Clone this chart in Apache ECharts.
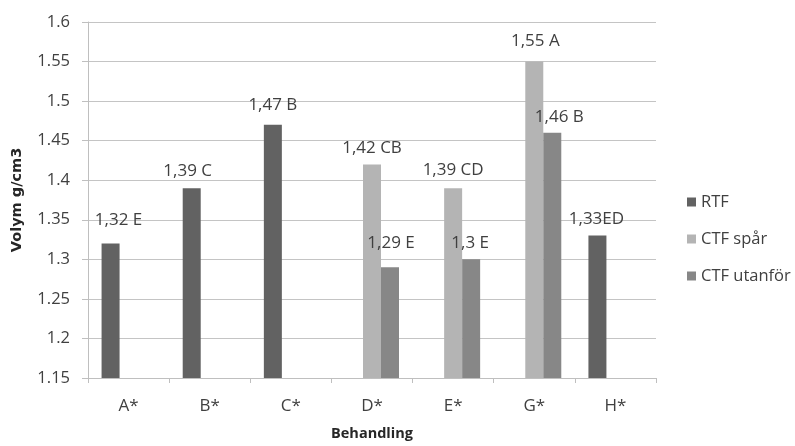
<!DOCTYPE html>
<html>
<head>
<meta charset="utf-8">
<script src="https://cdn.jsdelivr.net/npm/echarts@6/dist/echarts.min.js"></script>
<style>
  html, body { margin: 0; padding: 0; background: #ffffff; }
  #chart { width: 795px; height: 446px; }
</style>
</head>
<body>
<div id="chart"></div>
<script>
// Bulk density per treatment (g/cm3)
const categories = ['A*', 'B*', 'C*', 'D*', 'E*', 'G*', 'H*'];
const seriesNames = ['RTF', 'CTF spår', 'CTF utanför'];

const rtfValues     = [1.32, 1.39, 1.47, null, null, null, 1.33];
const sparValues    = [null, null, null, 1.42, 1.39, 1.55, null];
const utanforValues = [null, null, null, 1.29, 1.30, 1.46, null];

// Significance letters shown after each value
const rtfLetters     = ['E', 'C', 'B', '', '', '', 'ED'];
const sparLetters    = ['', '', '', 'CB', 'CD', 'A', ''];
const utanforLetters = ['', '', '', 'E', 'E', 'B', ''];

// Small label nudges [dx, dy] per bar
const rtfNudge     = [[8, -7], [-4, 0], [0, -3], null, null, null, [-1, 0]];
const sparNudge    = [null, null, null, [0, 0], [0, -1], [1, -4], null];
const utanforNudge = [null, null, null, [1, -8], [-1, 0], [7, 1], null];

const yMin = 1.15, yMax = 1.6, yStep = 0.05;

const colors = ['#626262', '#b4b4b4', '#878787'];
const FONT = '"Open Sans", "Liberation Sans", sans-serif';

function fmtValue(v) {
  return String(+v.toFixed(2)).replace('.', ',');
}

function buildData(values, letters, nudges) {
  return values.map((v, i) => {
    if (v === null) return null;
    const sep = letters[i] === 'ED' ? '' : ' ';
    return {
      value: v,
      label: {
        formatter: fmtValue(v) + sep + letters[i],
        offset: nudges[i] || [0, 0]
      }
    };
  });
}

const allValues = [rtfValues, sparValues, utanforValues];
const allLetters = [rtfLetters, sparLetters, utanforLetters];
const allNudges = [rtfNudge, sparNudge, utanforNudge];

const chart = echarts.init(document.getElementById('chart'), null, { renderer: 'canvas' });

chart.setOption({
  animation: false,
  backgroundColor: '#ffffff',
  textStyle: { fontFamily: FONT },
  grid: { left: 88, right: 139, top: 22, bottom: 62, containLabel: false },
  legend: {
    orient: 'vertical',
    left: 687,
    top: 193,
    padding: 0,
    itemWidth: 9,
    itemHeight: 9,
    itemGap: 19,
    icon: 'rect',
    data: seriesNames,
    textStyle: { fontFamily: FONT, fontSize: 16.5, color: '#404040', lineHeight: 18 }
  },
  xAxis: {
    type: 'category',
    data: categories,
    name: 'Behandling',
    nameLocation: 'middle',
    nameGap: 48,
    nameTextStyle: { fontFamily: FONT, fontSize: 14.5, fontWeight: 'bold', color: '#262626' },
    axisLine: { show: true, lineStyle: { color: '#bfbfbf', width: 1 } },
    axisTick: { show: true, length: 5, lineStyle: { color: '#bfbfbf' } },
    axisLabel: { fontFamily: FONT, fontSize: 17, color: '#404040', margin: 20 }
  },
  yAxis: {
    type: 'value',
    min: yMin,
    max: yMax,
    interval: yStep,
    name: 'Volym g/cm3',
    nameLocation: 'middle',
    nameGap: 63,
    nameRotate: 90,
    nameTextStyle: { fontFamily: '"DejaVu Sans", sans-serif', fontSize: 14.5, fontWeight: 'bold', color: '#262626' },
    axisLine: { show: true, lineStyle: { color: '#bfbfbf', width: 1 } },
    axisTick: { show: true, length: 6, lineStyle: { color: '#bfbfbf' } },
    axisLabel: {
      fontFamily: FONT, fontSize: 16.5, color: '#404040', margin: 18,
      formatter: v => String(+v.toFixed(2))
    },
    splitLine: { show: true, lineStyle: { color: '#c4c4c4', width: 1 } }
  },
  series: seriesNames.map((name, k) => ({
    name: name,
    type: 'bar',
    barWidth: 18,
    barGap: '0%',
    itemStyle: { color: colors[k] },
    label: {
      show: true,
      position: 'top',
      distance: 8,
      fontFamily: FONT,
      fontSize: 17,
      color: '#404040'
    },
    data: buildData(allValues[k], allLetters[k], allNudges[k])
  }))
});
</script>
</body>
</html>
